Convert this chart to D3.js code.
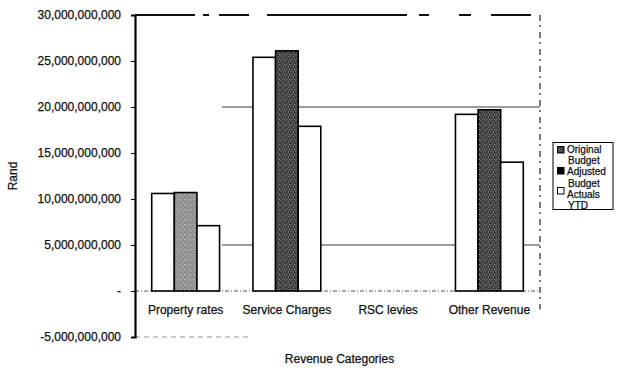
<!DOCTYPE html>
<html><head><meta charset="utf-8">
<script src="https://cdn.jsdelivr.net/npm/d3@7"></script>
<style>
body{margin:0;background:#fff;}
svg text{font-family:"Liberation Sans",Arial,sans-serif;fill:#111;stroke:#111;stroke-width:0.25px;}
</style></head><body>
<svg id="c" width="620" height="368"></svg>
<script>
const categories = ["Property rates","Service Charges","RSC levies","Other Revenue"];
const seriesNames = ["Original Budget","Adjusted Budget","Actuals YTD"];
const originalBudget = [10.6e9, 25.4e9, 0, 19.2e9];
const adjustedBudget = [10.7e9, 26.1e9, 0, 19.7e9];
const actualsYTD     = [7.1e9, 17.9e9, 0, 14.0e9];
const yTicks = [-5e9,0,5e9,10e9,15e9,20e9,25e9,30e9];

const values = [originalBudget, adjustedBudget, actualsYTD];
const svg = d3.select("#c");
const L=135,R=540,T=15,B=337;

const defs = svg.append("defs");
function stipple(id, base, dot){
  const p = defs.append("pattern").attr("id",id).attr("patternUnits","userSpaceOnUse").attr("width",5).attr("height",5);
  p.append("rect").attr("width",5).attr("height",5).attr("fill",base);
  [[0.5,0.5],[3,1.5],[1.5,3.5],[4,4]].forEach(d=>p.append("rect").attr("x",d[0]).attr("y",d[1]).attr("width",0.9).attr("height",0.9).attr("fill",dot));
}
stipple("pLight","#8a8a8a","#e8e8e8");
stipple("pDark","#3a3a3a","#bbbbbb");
const adjFill = ["url(#pLight)","url(#pDark)","url(#pDark)","url(#pDark)"];
const seriesFill = ["#fff", null, "#fff"];

const y = d3.scaleLinear().domain([-5e9,30e9]).range([B,T]);
const x0 = d3.scaleBand().domain(categories).range([L,R]).paddingInner(0.33).paddingOuter(0.165);
const x1 = d3.scaleBand().domain(d3.range(3)).range([0,x0.bandwidth()]);

// gridlines visible in picture
[20e9,5e9].forEach(v=>{
  svg.append("line").attr("x1",L+87).attr("x2",R).attr("y1",y(v)).attr("y2",y(v)).attr("stroke","#222").attr("stroke-width",0.9);
});
svg.append("line").attr("x1",L).attr("x2",R).attr("y1",y(0)).attr("y2",y(0)).attr("stroke","#444").attr("stroke-dasharray","4,2,1,2").attr("stroke-width",0.9);
svg.append("line").attr("x1",L).attr("x2",L+115).attr("y1",y(-5e9)).attr("y2",y(-5e9)).attr("stroke","#777").attr("stroke-dasharray","5,4").attr("stroke-width",0.8);
// right border
svg.append("line").attr("x1",R).attr("x2",R).attr("y1",T).attr("y2",y(-2e9)).attr("stroke","#222").attr("stroke-dasharray","6,4,2,5").attr("stroke-width",1.2);
// top border
svg.append("line").attr("x1",L).attr("x2",R).attr("y1",T).attr("y2",T).attr("stroke","#111").attr("stroke-width",2).attr("stroke-dasharray","60,8,6,10,30,18,140,12,10,30,12,20,40");

// bars
categories.forEach((c,ci)=>{
  values.forEach((arr,si)=>{
    const v = arr[ci];
    if(!v) return;
    svg.append("rect")
      .attr("x",x0(c)+x1(si)).attr("width",x1.bandwidth())
      .attr("y",y(Math.max(0,v))).attr("height",Math.abs(y(v)-y(0)))
      .attr("fill", si===1 ? adjFill[ci] : seriesFill[si])
      .attr("stroke","#000").attr("stroke-width",1.6);
  });
});

// y axis
const fmt = v => v===0 ? "-" : d3.format(",")(v).replace("\u2212","-");
const yAxis = d3.axisLeft(y).tickValues(yTicks).tickFormat(fmt).tickSize(4).tickPadding(10);
const ga = svg.append("g").attr("transform",`translate(${L},0)`).call(yAxis);
ga.select(".domain").attr("stroke","#000").attr("stroke-width",2.2);
ga.selectAll(".tick line").attr("stroke","#000");
ga.selectAll(".tick text").attr("font-size",12).attr("fill","#111").style("font-family","Liberation Sans, Arial, sans-serif");

// x labels
const xAxis = d3.axisBottom(x0).tickSize(0).tickPadding(14);
const gx = svg.append("g").attr("transform",`translate(0,${y(0)})`).call(xAxis);
gx.select(".domain").remove();
gx.selectAll(".tick text").attr("font-size",12).attr("fill","#111").style("font-family","Liberation Sans, Arial, sans-serif");

// axis titles
svg.append("text").attr("x",(L+R)/2+2).attr("y",363).attr("text-anchor","middle").attr("font-size",12).text("Revenue Categories");
svg.append("text").attr("transform","translate(17,176) rotate(-90)").attr("text-anchor","middle").attr("font-size",12).text("Rand");

// legend
const lg = svg.append("g");
lg.append("rect").attr("x",553).attr("y",142.5).attr("width",60).attr("height",67).attr("fill","#fff").attr("stroke","#000").attr("stroke-width",1);
const legendFills = ["url(#pDark)","#000","#fff"];
const legendRows = [150,171,191];
seriesNames.forEach((s,i)=>{
  const cy = legendRows[i];
  lg.append("rect").attr("x",557.5).attr("y",cy-3.5).attr("width",6.5).attr("height",6.5).attr("fill",legendFills[i]).attr("stroke","#000").attr("stroke-width",1);
});
const legendTexts = [["Original",567,153],["Budget",568,164.2],["Adjusted",567,175.4],["Budget",568,186.6],["Actuals",567,197.8],["YTD",568,208.6]];
legendTexts.forEach(t=>lg.append("text").attr("x",t[1]).attr("y",t[2]).attr("font-size",10).text(t[0]));
</script>
</body></html>
